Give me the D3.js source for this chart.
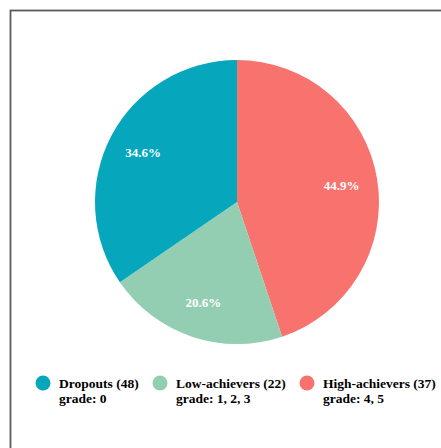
<!DOCTYPE html>
<html><head><meta charset="utf-8">
<script src="https://cdn.jsdelivr.net/npm/d3@7"></script>
<style>body{margin:0;background:#fff}svg{display:block}
text{font-family:'Liberation Serif','Times New Roman',serif;font-weight:bold}</style>
</head><body>
<svg id="c" width="441" height="448"></svg>
<script>
const sliceLabels = ["High-achievers", "Low-achievers", "Dropouts"];
const sliceValues = [44.9, 20.6, 34.6];
const sliceColors = ["#F8736E", "#93CEB3", "#06A6BD"];
const legendNames = ["Dropouts (48)", "Low-achievers (22)", "High-achievers (37)"];
const legendGrades = ["grade: 0", "grade: 1, 2, 3", "grade: 4, 5"];
const legendColors = ["#06A6BD", "#93CEB3", "#F8736E"];

const svg = d3.select("#c");
svg.append("rect").attr("x", 10.5).attr("y", 10.5).attr("width", 460).attr("height", 460)
  .attr("fill", "none").attr("stroke", "#5a5a5a").attr("stroke-width", 1.8);

const cx = 237, cy = 202, r = 142;
const g = svg.append("g").attr("transform", `translate(${cx},${cy})`);
const pie = d3.pie().sort(null).value(d => d)(sliceValues);
const arc = d3.arc().innerRadius(0).outerRadius(r);
const labelArc = d3.arc().innerRadius(106).outerRadius(106);
g.selectAll("path").data(pie).join("path")
  .attr("d", arc).attr("fill", (d, i) => sliceColors[i]);
g.selectAll("text").data(pie).join("text")
  .attr("transform", d => `translate(${labelArc.centroid(d)})`)
  .attr("text-anchor", "middle").attr("dy", "0.35em")
  .attr("font-size", 13).attr("fill", "#fff")
  .text(d => d.data.toFixed(1) + "%");

const legendX = [43, 160, 307];
const lg = svg.append("g").selectAll("g").data(legendNames).join("g")
  .attr("transform", (d, i) => `translate(${legendX[i]},383)`);
lg.append("circle").attr("r", 7.5).attr("fill", (d, i) => legendColors[i]);
const lt = lg.append("text").attr("x", 16).attr("y", 5)
  .attr("font-size", 13.5).attr("fill", "#000");
lt.append("tspan").text(d => d);
lt.append("tspan").attr("x", 16).attr("dy", 15).text((d, i) => legendGrades[i]);
</script>
</body></html>
